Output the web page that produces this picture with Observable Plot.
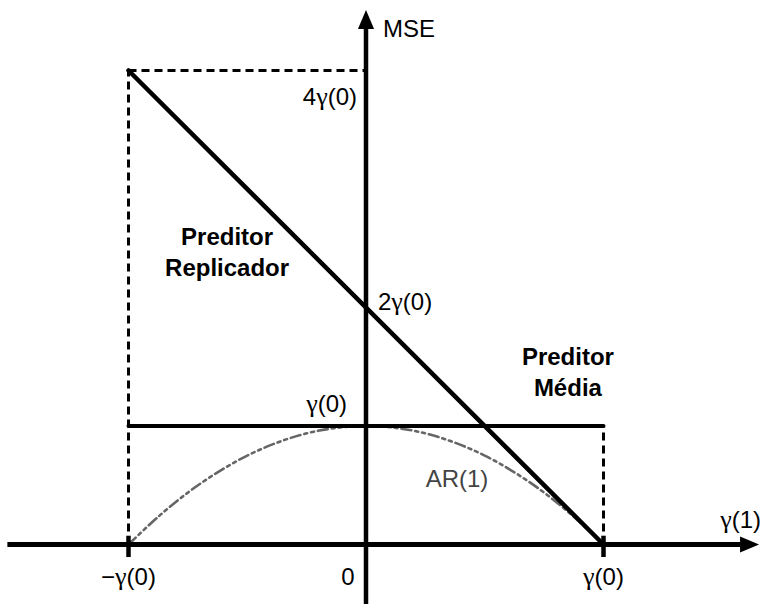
<!DOCTYPE html>
<html>
<head>
<meta charset="utf-8">
<script src="https://cdn.jsdelivr.net/npm/d3@7"></script>
<script src="https://cdn.jsdelivr.net/npm/@observablehq/plot@0.6"></script>
<style>
  html, body { margin: 0; padding: 0; background: #fff; }
  #chart svg { display: block; }
</style>
</head>
<body>
<div id="chart"></div>
<script>
// ---- data (units of γ(0)) ----
// Preditor Replicador: MSE = 2γ(0) − 2γ(1)
const replicadorX = [-1, 1];
const replicadorY = [4, 0];
// Preditor Média: MSE = γ(0)
const mediaX = [-1, 1];
const mediaY = [1, 1];
// AR(1) optimal predictor MSE
const ar1X = [-1, -0.875, -0.75, -0.625, -0.5, -0.375, -0.25, -0.125, 0, 0.125, 0.25, 0.375, 0.5, 0.625, 0.75, 0.875, 1];
const ar1Y = [0, 0.234, 0.438, 0.609, 0.75, 0.859, 0.938, 0.984, 1, 0.984, 0.938, 0.859, 0.75, 0.609, 0.438, 0.234, 0];
// dashed guide lines
const guideX1 = [-1, -1, 1];
const guideY1 = [0, 4, 0];
const guideX2 = [-1, 0, 1];
const guideY2 = [4, 4, 1];
// axes extents / tick positions
const xAxisExtent = [-1.51, 1.575];
const yAxisExtent = [-0.51, 4.35];
const xTickValues = [-1, 0, 1];
const xTickLabels = ["\u2212\u03b3(0)", "0", "\u03b3(0)"];
const xTickShift = [0, -18, 0];
const yTickValues = [4, 2, 1];
const yTickLabels = ["4\u03b3(0)", "2\u03b3(0)", "\u03b3(0)"];
// annotations
const noteText = ["Preditor\nReplicador", "Preditor\nM\u00e9dia", "AR(1)"];
const noteX = [-0.585, 0.85, 0.383];
const noteY = [2.48, 1.468, 0.549];

const font = "'Liberation Sans', Arial, Helvetica, sans-serif";

const line = (xs, ys) => xs.map((x, i) => ({x, y: ys[i]}));
const guides = guideX1.map((x1, i) => ({x1, y1: guideY1[i], x2: guideX2[i], y2: guideY2[i]}));

// narrow filled arrowhead symbol, base at origin, tip pointing up
const arrowHead = {
  draw(context, size) {
    const s = Math.sqrt(size / Math.PI);
    const h = 2 * s, w = 0.85 * s;
    context.moveTo(0, -h);
    context.lineTo(w, 0);
    context.lineTo(-w, 0);
    context.closePath();
  }
};

const txt = {fontSize: 24, fill: "#000"};

const chart = Plot.plot({
  width: 763,
  height: 604,
  margin: 0,
  style: {fontFamily: font, background: "#fff"},
  x: {domain: [-1, 1], range: [128, 603], axis: null},
  y: {domain: [0, 4], range: [544, 70], axis: null},
  marks: [
    // dashed guides
    Plot.link(guides, {x1: "x1", y1: "y1", x2: "x2", y2: "y2", stroke: "#000", strokeWidth: 3, strokeDasharray: "8 5"}),
    // AR(1) curve
    Plot.line(line(ar1X, ar1Y), {x: "x", y: "y", curve: "catmull-rom", stroke: "#666", strokeWidth: 2.6, strokeDasharray: "10 4 3 4 3 4"}),
    // x axis
    Plot.link([{x1: xAxisExtent[0], x2: xAxisExtent[1]}], {x1: "x1", x2: "x2", y1: 0, y2: 0, stroke: "#000", strokeWidth: 5}),
    Plot.dot([{x: xAxisExtent[1]}], {x: "x", y: 0, symbol: arrowHead, r: 9.5, rotate: 90, fill: "#000", stroke: "none"}),
    // y axis
    Plot.link([{y1: yAxisExtent[0], y2: yAxisExtent[1]}], {y1: "y1", y2: "y2", x1: 0, x2: 0, stroke: "#000", strokeWidth: 4.5}),
    Plot.dot([{y: yAxisExtent[1]}], {x: 0, y: "y", symbol: arrowHead, r: 9.5, fill: "#000", stroke: "none"}),
    // tick marks at ±γ(0)
    Plot.ruleX([xTickValues[0], xTickValues[2]], {y1: -0.11, y2: 0.07, stroke: "#000", strokeWidth: 4.5}),
    // predictors
    Plot.line(line(mediaX, mediaY), {x: "x", y: "y", stroke: "#000", strokeWidth: 4}),
    Plot.line(line(replicadorX, replicadorY), {x: "x", y: "y", stroke: "#000", strokeWidth: 4.5}),
    // x tick labels
    ...xTickValues.map((v, i) =>
      Plot.text([{v, t: xTickLabels[i]}], {x: "v", y: 0, text: "t", dy: 33, dx: xTickShift[i], textAnchor: "middle", ...txt})
    ),
    // y tick labels
    Plot.text([{y: yTickValues[0], t: yTickLabels[0]}], {x: 0, y: "y", text: "t", textAnchor: "end", dx: -9, dy: 27, ...txt}),
    Plot.text([{y: yTickValues[1], t: yTickLabels[1]}], {x: 0, y: "y", text: "t", textAnchor: "start", dx: 12, dy: -5, ...txt}),
    Plot.text([{y: yTickValues[2], t: yTickLabels[2]}], {x: 0, y: "y", text: "t", textAnchor: "end", dx: -19, dy: -22, ...txt}),
    // axis titles
    Plot.text([{t: "MSE"}], {x: 0, y: yAxisExtent[1], text: "t", textAnchor: "start", dx: 17, dy: 0, ...txt}),
    Plot.text([{t: "\u03b3(1)"}], {x: xAxisExtent[1], y: 0, text: "t", textAnchor: "end", dx: 21, dy: -24, ...txt}),
    // annotations
    Plot.text(noteText.slice(0, 2).map((t, i) => ({t, x: noteX[i], y: noteY[i]})), {
      x: "x", y: "y", text: "t", fontWeight: "bold", lineHeight: 1.3, textAnchor: "middle", ...txt
    }),
    Plot.text([{t: noteText[2], x: noteX[2], y: noteY[2]}], {x: "x", y: "y", text: "t", fontSize: 24, fill: "#444", textAnchor: "middle"})
  ]
});

// render γ in a serif face, as in the reference
chart.querySelectorAll("text").forEach((el) => {
  if (el.children.length === 0 && el.textContent.includes("\u03b3")) {
    const parts = el.textContent.split(/(\u03b3)/);
    el.textContent = "";
    parts.forEach((p) => {
      if (!p) return;
      const ts = document.createElementNS("http://www.w3.org/2000/svg", "tspan");
      ts.textContent = p;
      if (p === "\u03b3") {
        ts.setAttribute("font-family", "'Liberation Serif', 'DejaVu Serif', serif");
        ts.setAttribute("font-size", "26");
      }
      el.appendChild(ts);
    });
  }
});

document.getElementById("chart").append(chart);
</script>
</body>
</html>
